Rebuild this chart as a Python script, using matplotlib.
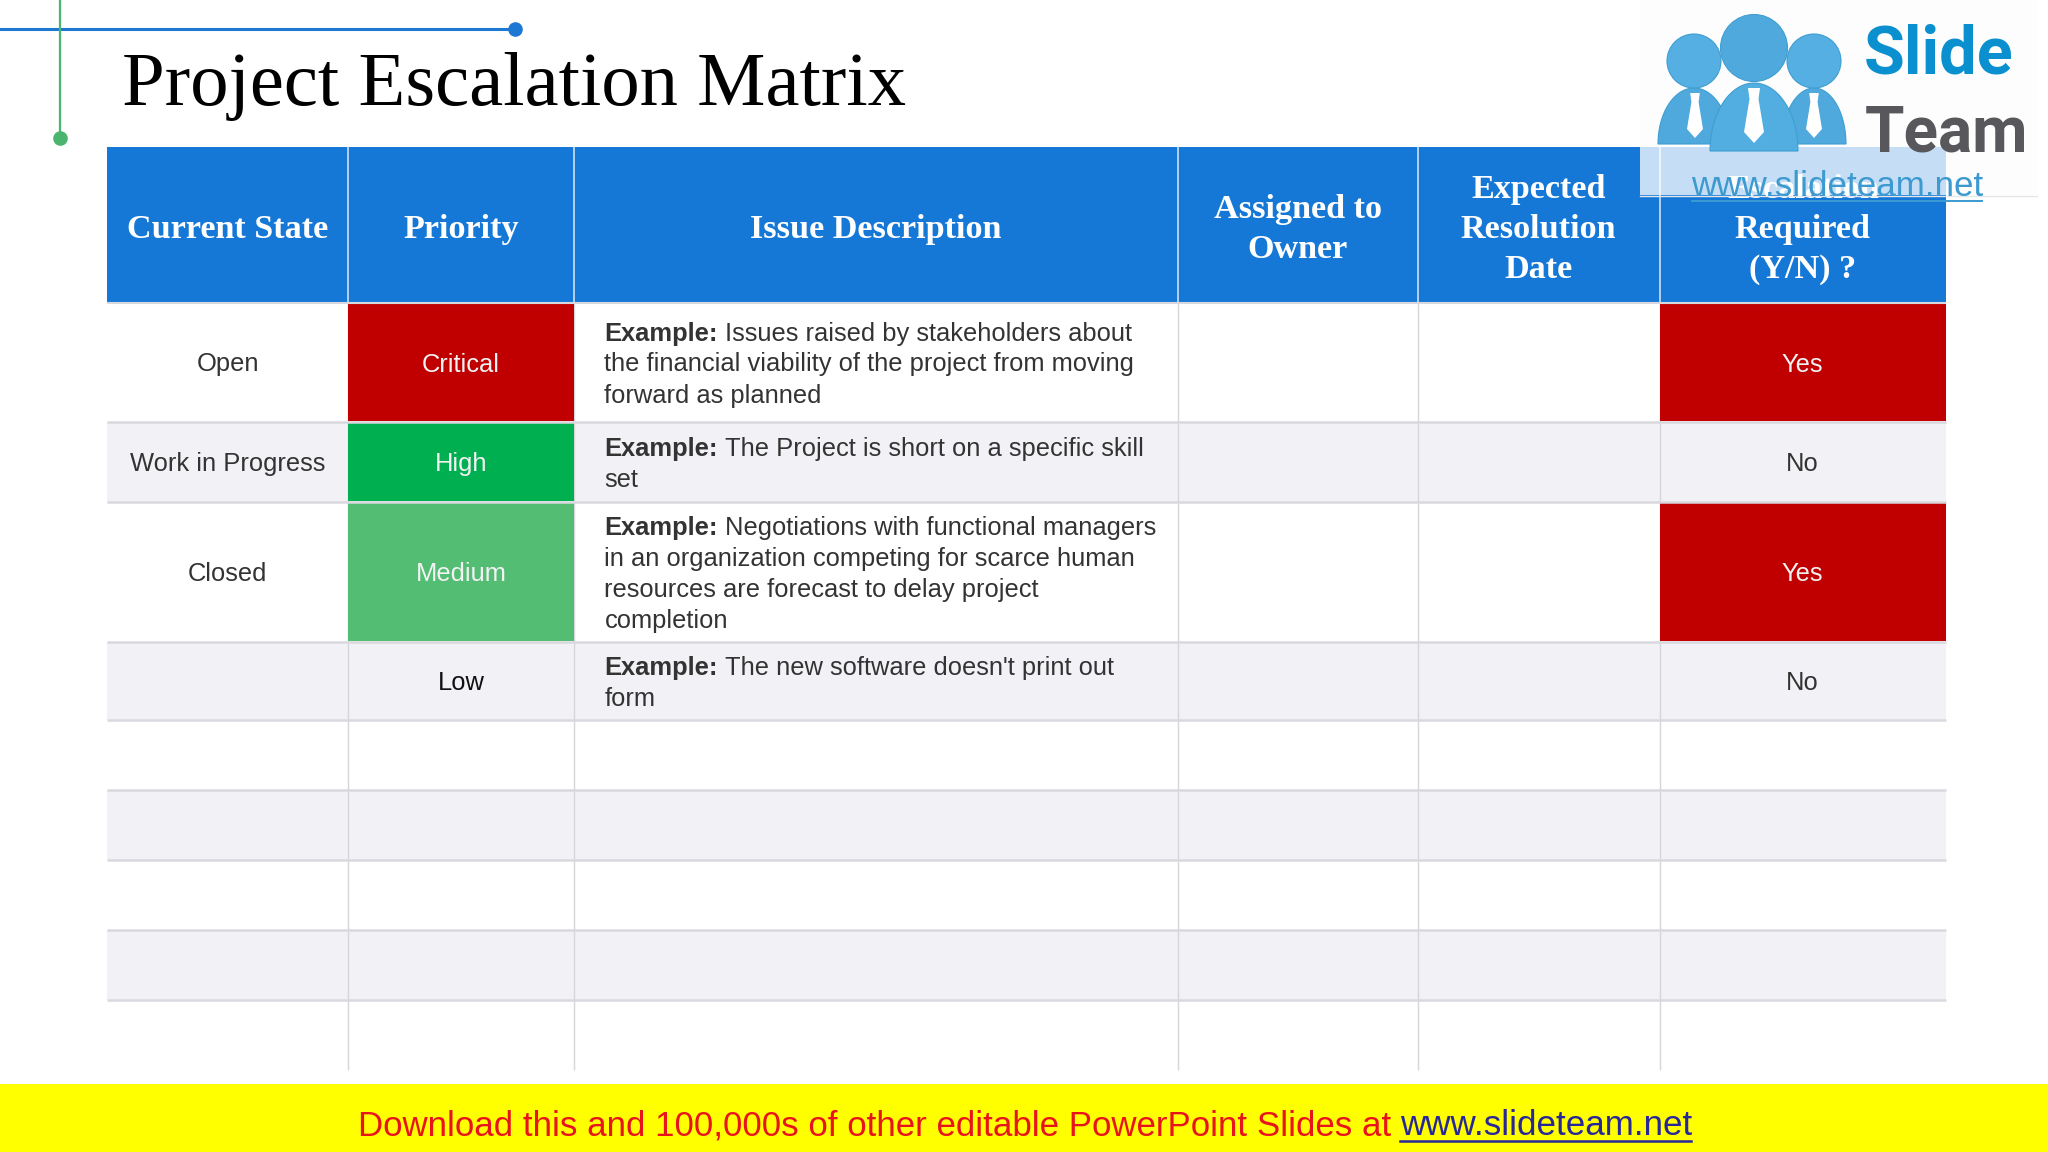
import numpy as np
import matplotlib
matplotlib.use("Agg")
import matplotlib.pyplot as plt
from matplotlib.patches import Rectangle, Circle, Polygon

title = "Project Escalation Matrix"
headers = ["Current State", "Priority", "Issue Description", "Assigned to\nOwner",
           "Expected\nResolution\nDate", "Escalation\nRequired\n(Y/N) ?"]
states = ["Open", "Work in Progress", "Closed", "", "", "", "", "", ""]
priorities = ["Critical", "High", "Medium", "Low", "", "", "", "", ""]
issues = [
    ["Issues raised by stakeholders about", "the financial viability of the project from moving", "forward as planned"],
    ["The Project is short on a specific skill", "set"],
    ["Negotiations with functional managers", "in an organization competing for scarce human", "resources are forecast to delay project", "completion"],
    ["The new software doesn't print out", "form"],
]
escalation = ["Yes", "No", "Yes", "No", "", "", "", "", ""]
footer_text = "Download this and 100,000s of other editable PowerPoint Slides at"
footer_link = "www.slideteam.net"

col_x = [107, 348, 574, 1177.5, 1417.5, 1659.5, 1946]
row_y = [147, 302, 422, 501.5, 642, 720, 790, 860, 930, 1000, 1070]
prio_colors = {"Critical": "#c00000", "High": "#00b050", "Medium": "#52bd73"}
esc_colors = {"Yes": "#c00000"}

fig = plt.figure(figsize=(20.48, 11.52), dpi=100, facecolor="white")
ax = fig.add_axes([0, 0, 1, 1])
ax.set_xlim(0, 2048)
ax.set_ylim(1152, 0)
ax.axis("off")
SANS = "Liberation Sans"
SERIF = "Liberation Serif"
HEAD = "#1578d7"
BODY = 18.4
r = fig.canvas.get_renderer()

def rect(x0, y0, x1, y1, c, z=1, **k):
    ax.add_patch(Rectangle((x0, y0), x1 - x0, y1 - y0, fc=c, ec="none", zorder=z, **k))

# decorations
ax.plot([0, 515], [29, 29], color="#1d78d3", lw=2.2, zorder=3)
ax.plot([515], [29], "o", ms=9.5, color="#1d78d3", zorder=3)
ax.plot([60, 60], [0, 138], color="#4ab56e", lw=1.6, zorder=3)
ax.plot([60], [138], "o", ms=9.5, color="#4ab56e", zorder=3)
ax.text(122, 105, title, family=SERIF, fontsize=55.3, color="black", va="baseline", ha="left", zorder=3)

# table body
n_rows = len(states)
for i in range(n_rows):
    y0, y1 = row_y[i + 1], row_y[i + 2]
    rect(col_x[0], y0, col_x[-1], y1, "white" if i % 2 == 0 else "#f2f1f5", 1)
    cy = (y0 + y1) / 2
    if priorities[i] in prio_colors:
        rect(col_x[1], y0 + 1, col_x[2], y1 - 1, prio_colors[priorities[i]], 2)
    if escalation[i] in esc_colors:
        rect(col_x[5], y0 + 1, col_x[6], y1 - 1, esc_colors[escalation[i]], 2)
    ax.text((col_x[0] + col_x[1]) / 2, cy, states[i], family=SANS, fontsize=BODY, color="#333333",
            ha="center", va="center_baseline", zorder=4)
    ax.text((col_x[1] + col_x[2]) / 2, cy, priorities[i], family=SANS, fontsize=BODY,
            color="#f2f2f2" if priorities[i] in prio_colors else "#111111", ha="center", va="center_baseline", zorder=4)
    ax.text((col_x[5] + col_x[6]) / 2, cy, escalation[i], family=SANS, fontsize=BODY,
            color="#f2f2f2" if escalation[i] in esc_colors else "#333333", ha="center", va="center_baseline", zorder=4)
    if i < len(issues):
        lines = issues[i]
        top = cy - (len(lines) - 1) * 31 / 2
        for j, line in enumerate(lines):
            ly = top + j * 31
            x = 604.5
            if j == 0:
                t = ax.text(x, ly, "Example:", family=SANS, weight="bold", fontsize=BODY, color="#333333",
                            ha="left", va="center_baseline", zorder=4)
                x = ax.transData.inverted().transform(t.get_window_extent(r).corners()[3])[0] + 7
            ax.text(x, ly, line, family=SANS, fontsize=BODY, color="#333333", ha="left",
                    va="center_baseline", zorder=4)
    if i < n_rows - 1:
        ax.plot([col_x[0], col_x[-1]], [y1, y1], color="#d9d8de", lw=1.8, zorder=3, solid_capstyle="butt")
for x in col_x[1:-1]:
    ax.plot([x, x], [row_y[1], row_y[-1]], color="#d6d6da", lw=1.0, zorder=1.5, solid_capstyle="butt")

# header
rect(col_x[0], row_y[0], col_x[-1], row_y[1], HEAD, 2)
ax.plot([col_x[0], col_x[-1]], [row_y[1] + 0.5] * 2, color="#d9d8de", lw=1.5, zorder=3, solid_capstyle="butt")
for x in col_x[1:-1]:
    ax.plot([x, x], [row_y[0], row_y[1]], color="#cfdff2", lw=1.2, zorder=3, solid_capstyle="butt")
for k, h in enumerate(headers):
    ax.text((col_x[k] + col_x[k + 1]) / 2, (row_y[0] + row_y[1]) / 2 + 5, h, family=SERIF, weight="bold",
            fontsize=24.6, color="white", ha="center", va="center", linespacing=1.38, zorder=4)

# logo plate over the corner of the table
rect(1640, 0, 2037, 147, "#fdfdfd", 5)
rect(1946, 147, 2037, 195, "#fdfdfd", 5)
rect(1640, 147, 1946, 195, "white", 6, alpha=0.76)
ax.plot([1640, 2037], [195.5, 195.5], color="#e4e6ea", lw=1, zorder=6)

def body(cx, half, top, bottom, c):
    t = np.linspace(np.pi, 2 * np.pi, 40)
    xs = cx + half * np.cos(t)
    ys = bottom + (bottom - top) * np.sin(t)
    ax.add_patch(Polygon(np.c_[xs, ys], closed=True, fc=c, ec="#3f9ed2", lw=0.8, zorder=7))

def tie(cx, top, w, h):
    pts = [(cx - w * .6, top), (cx + w * .6, top), (cx + w * .45, top + h * .2), (cx + w, top + h * .8),
           (cx, top + h), (cx - w, top + h * .8), (cx - w * .45, top + h * .2)]
    ax.add_patch(Polygon(pts, closed=True, fc="white", ec="none", zorder=8))

body(1694, 36, 88, 144, "#4fa9dc")
body(1814, 32, 88, 144, "#4fa9dc")
tie(1695, 93, 8, 45)
tie(1814, 93, 8, 45)
body(1754, 44, 83, 151, "#52aee0")
tie(1754, 88, 10, 55)
ax.add_patch(Circle((1694, 61), 27, fc="#55afe2", ec="#3f9ed2", lw=0.8, zorder=7))
ax.add_patch(Circle((1814, 61), 27, fc="#55afe2", ec="#3f9ed2", lw=0.8, zorder=7))
ax.add_patch(Circle((1754, 48), 33.5, fc="#50a9dd", ec="#3f9ed2", lw=0.8, zorder=7))
ax.text(1864, 73, "Slide", family="Roboto", weight="bold", fontsize=48, color="#0a8fcf",
        ha="left", va="baseline", zorder=8)
ax.text(1865, 152, "Team", family="Roboto", weight="bold", fontsize=46, color="#58585c",
        ha="left", va="baseline", zorder=8)
ax.text(1691, 196, footer_link, family=SANS, fontsize=25.2, color="#3d9ad1", ha="left", va="baseline", zorder=8)
ax.plot([1692, 1982], [200.5, 200.5], color="#3d9ad1", lw=1.4, zorder=8)

# footer
rect(0, 1084, 2048, 1152, "#ffff00", 5)
ax.text(358, 1135, footer_text, family=SANS, fontsize=25.1, color="#e8141c", ha="left", va="baseline", zorder=6)
ax.text(1400, 1135, footer_link, family=SANS, fontsize=25.2, color="#27279a", ha="left", va="baseline", zorder=6)
ax.plot([1400, 1691], [1140.5, 1140.5], color="#27279a", lw=1.8, zorder=6)

fig.savefig("out.png", dpi=100)
